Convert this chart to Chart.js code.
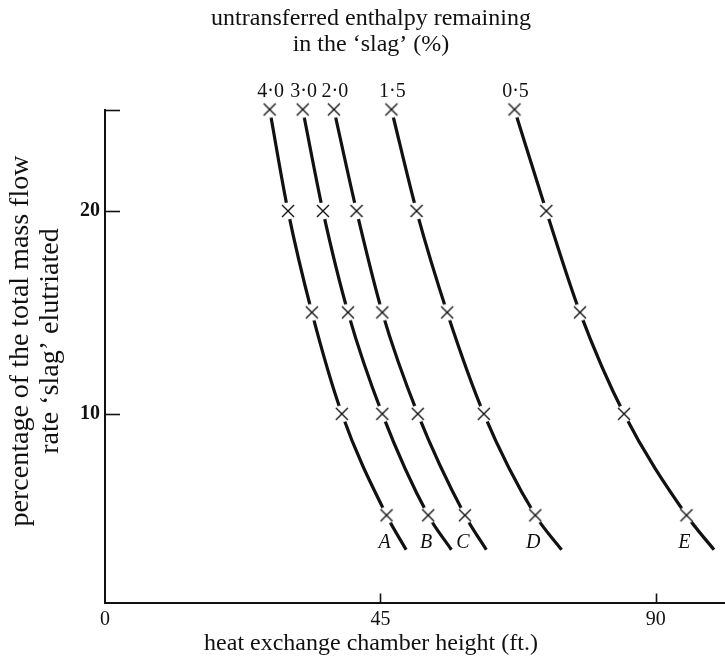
<!DOCTYPE html>
<html>
<head>
<meta charset="utf-8">
<script src="https://cdn.jsdelivr.net/npm/chart.js@4/dist/chart.umd.min.js"></script>
<style>
  html, body { margin: 0; padding: 0; background: #fff; }
  #box { width: 725px; height: 660px; position: relative; }
</style>
</head>
<body>
<div id="box"><canvas id="grafico"></canvas></div>
<script>
// percentage of mass flow elutriated (last value = end of drawn curve, no marker)
const massFlowPct = [25, 20, 15, 10, 5, 3.3];
// heat exchange chamber height (ft.) for each curve
const heightA = [26.9, 29.9, 33.8, 38.7, 46.0, 49.2];
const heightB = [32.3, 35.6, 39.7, 45.3, 52.8, 56.6];
const heightC = [37.4, 41.1, 45.3, 51.1, 58.8, 62.3];
const heightD = [46.8, 50.9, 55.9, 61.9, 70.3, 74.6];
const heightE = [66.9, 72.1, 77.6, 84.8, 95.0, 99.5];
const enthalpyLabels = ['4·0', '3·0', '2·0', '1·5', '0·5'];
const curveLetters = ['A', 'B', 'C', 'D', 'E'];
const xTicks = [0, 45, 90];
const yTicks = [10, 20, 25];

const FONT = '"Liberation Serif", "DejaVu Serif", serif';

// marcador: disco branco (interrompe a curva) + cruz
function criarMarcador() {
    const c = document.createElement('canvas');
    c.width = 22; c.height = 22;
    const g = c.getContext('2d');
    g.fillStyle = '#fff';
    g.beginPath(); g.arc(11, 11, 8.5, 0, Math.PI * 2); g.fill();
    g.strokeStyle = '#111';
    g.lineWidth = 1.4;
    g.beginPath();
    g.moveTo(5, 5); g.lineTo(17, 17);
    g.moveTo(17, 5); g.lineTo(5, 17);
    g.stroke();
    return c;
}
const marcador = criarMarcador();

const series = [heightA, heightB, heightC, heightD, heightE];
const datasets = series.map((alturas, i) => ({
    label: curveLetters[i],
    data: alturas.map((x, k) => ({ x: x, y: massFlowPct[k] })),
    showLine: true,
    borderColor: '#111',
    borderWidth: 3.2,
    cubicInterpolationMode: 'monotone',
    pointStyle: marcador,
    pointRadius: ctx => (ctx.dataIndex === massFlowPct.length - 1 ? 0 : 7),
    clip: false
}));

// ticks para dentro, rótulos das curvas e títulos
const extras = {
    id: 'extras',
    afterDraw(chart) {
        const ctx = chart.ctx;
        const xs = chart.scales.x, ys = chart.scales.y;
        const area = chart.chartArea;
        ctx.save();
        ctx.strokeStyle = '#111';
        ctx.lineWidth = 1.6;
        xTicks.filter(v => v > 0).forEach(v => {
            const px = Math.round(xs.getPixelForValue(v)) + 0.5;
            ctx.beginPath(); ctx.moveTo(px, area.bottom); ctx.lineTo(px, area.bottom - 9); ctx.stroke();
        });
        yTicks.forEach(v => {
            const py = Math.round(ys.getPixelForValue(v)) + 0.5;
            ctx.beginPath(); ctx.moveTo(area.left, py); ctx.lineTo(area.left + 15, py); ctx.stroke();
        });

        ctx.fillStyle = '#111';
        ctx.textAlign = 'center';
        ctx.textBaseline = 'middle';
        series.forEach((alturas, i) => {
            ctx.font = '20px ' + FONT;
            const xTop = xs.getPixelForValue(alturas[0]);
            const yTop = ys.getPixelForValue(massFlowPct[0]);
            ctx.fillText(enthalpyLabels[i], xTop + 1, yTop - 18);
            ctx.font = 'italic 20px ' + FONT;
            ctx.fillText(curveLetters[i], xs.getPixelForValue(alturas[4]) - 2, ys.getPixelForValue(3.65));
        });

        ctx.font = '24px ' + FONT;
        ctx.fillText('untransferred enthalpy remaining', 371, 19);
        ctx.fillText('in the \u2018slag\u2019 (%)', 371, 45);
        ctx.fillText('heat exchange chamber height (ft.)', 371, 644);
        ctx.font = '28px ' + FONT;
        ctx.translate(0, 341);
        ctx.rotate(-Math.PI / 2);
        ctx.fillText('percentage of the total mass flow', 0, 21);
        ctx.fillText('rate \u2018slag\u2019 elutriated', 0, 51);
        ctx.restore();
    }
};

new Chart(document.getElementById('grafico'), {
    type: 'scatter',
    data: { datasets: datasets },
    options: {
        responsive: true,
        maintainAspectRatio: false,
        animation: false,
        layout: { autoPadding: false, padding: { top: 109.5, right: 0, left: 0, bottom: 0 } },
        scales: {
            x: {
                type: 'linear',
                min: 0,
                max: 101.3,
                afterBuildTicks: s => { s.ticks = xTicks.map(v => ({ value: v })); },
                afterFit: s => { s.height = 57.5; s.paddingLeft = 0; s.paddingRight = 0; },
                grid: { display: false, drawTicks: false },
                border: { display: true, color: '#111', width: 2 },
                ticks: { color: '#111', padding: 5, font: { family: FONT, size: 20 } }
            },
            y: {
                type: 'linear',
                min: 0.7,
                max: 25,
                afterBuildTicks: s => { s.ticks = yTicks.map(v => ({ value: v })); },
                afterFit: s => { s.width = 105; s.paddingTop = 0; s.paddingBottom = 0; },
                grid: { display: false, drawTicks: false },
                border: { display: true, color: '#111', width: 2 },
                ticks: {
                    color: '#111', padding: 5, font: { family: FONT, size: 20, weight: 'bold' },
                    callback: v => (v === 25 ? '' : String(v))
                }
            }
        },
        plugins: {
            legend: { display: false },
            tooltip: { enabled: false }
        }
    },
    plugins: [extras]
});
</script>
</body>
</html>
